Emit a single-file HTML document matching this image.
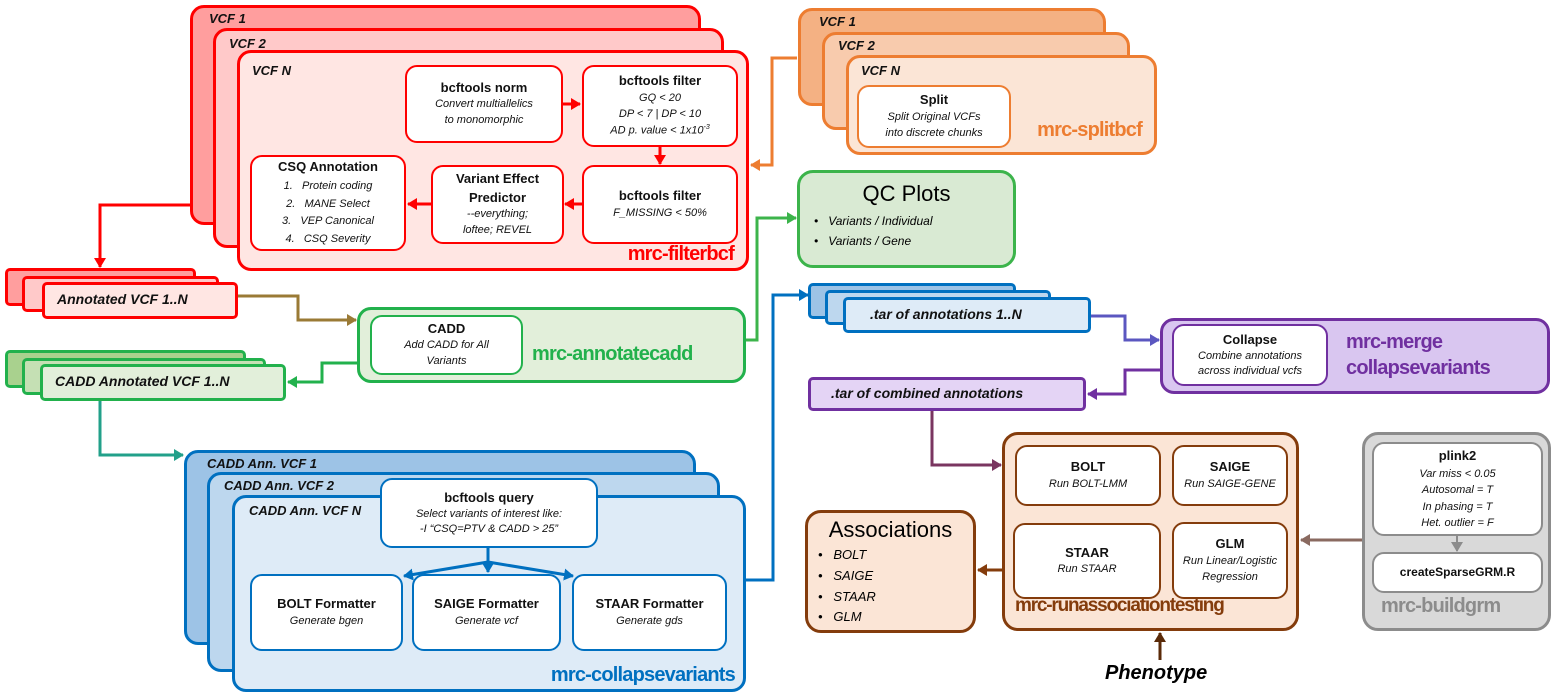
<!DOCTYPE html>
<html><head><meta charset="utf-8"><style>
body{margin:0;width:1557px;height:697px;background:#fff;position:relative;overflow:hidden;font-family:"Liberation Sans",sans-serif;}
.b{position:absolute;box-sizing:border-box;border-radius:14px;border:3px solid;}
.i{position:absolute;box-sizing:border-box;border-radius:12px;border:2px solid;background:#fff;text-align:center;font-size:11px;font-style:italic;color:#111;display:flex;flex-direction:column;justify-content:center;line-height:1.45;}
.i b{font-style:normal;font-size:13px;}
.t{position:absolute;font-weight:bold;font-style:italic;font-size:13px;color:#111;}
.lab{position:absolute;font-weight:bold;font-size:20px;letter-spacing:-0.8px;white-space:nowrap;}
.st{position:absolute;box-sizing:border-box;border-radius:5px;border:3px solid;font-weight:bold;font-style:italic;font-size:14px;color:#111;padding:6px 0 0 10px;}
svg{position:absolute;left:0;top:0;}
</style></head><body>
<!-- red -->
<div class="b" style="left:190px;top:5px;width:511px;height:220px;border-color:#f00;background:#ff9e9e"><span class="t" style="left:16px;top:3px">VCF 1</span></div>
<div class="b" style="left:213px;top:28px;width:511px;height:220px;border-color:#f00;background:#ffc9c9"><span class="t" style="left:13px;top:5px">VCF 2</span></div>
<div class="b" style="left:237px;top:50px;width:512px;height:221px;border-color:#f00;background:#ffe6e3"><span class="t" style="left:12px;top:10px">VCF N</span>
<span class="lab" style="right:12px;bottom:2px;color:#f00">mrc-filterbcf</span></div>
<div class="i" style="left:405px;top:65px;width:158px;height:78px;border-color:#f00"><b>bcftools norm</b><div>Convert multiallelics<br>to monomorphic</div></div>
<div class="i" style="left:582px;top:65px;width:156px;height:82px;border-color:#f00"><b>bcftools filter</b><div>GQ &lt; 20<br>DP &lt; 7 | DP &lt; 10<br>AD p. value &lt; 1x10<sup style="font-size:7px">-3</sup></div></div>
<div class="i" style="left:582px;top:165px;width:156px;height:79px;border-color:#f00"><b>bcftools filter</b><div>F_MISSING &lt; 50%</div></div>
<div class="i" style="left:431px;top:165px;width:133px;height:79px;border-color:#f00"><b>Variant Effect<br>Predictor</b><div>--everything;<br>loftee; REVEL</div></div>
<div class="i" style="left:250px;top:155px;width:156px;height:96px;border-color:#f00;line-height:1.6"><b>CSQ Annotation</b><div>1.&nbsp;&nbsp; Protein coding<br>2.&nbsp;&nbsp; MANE Select<br>3.&nbsp;&nbsp; VEP Canonical<br>4.&nbsp;&nbsp; CSQ Severity</div></div>
<!-- orange -->
<div class="b" style="left:798px;top:8px;width:308px;height:98px;border-color:#ed7d31;background:#f4b183"><span class="t" style="left:18px;top:3px">VCF 1</span></div>
<div class="b" style="left:822px;top:32px;width:308px;height:98px;border-color:#ed7d31;background:#f8cbad"><span class="t" style="left:13px;top:3px">VCF 2</span></div>
<div class="b" style="left:846px;top:55px;width:311px;height:100px;border-color:#ed7d31;background:#fbe5d6"><span class="t" style="left:12px;top:5px">VCF N</span>
<span class="lab" style="right:12px;bottom:10px;color:#ed7d31">mrc-splitbcf</span></div>
<div class="i" style="left:857px;top:85px;width:154px;height:63px;border-color:#ed7d31"><b>Split</b><div>Split Original VCFs<br>into discrete chunks</div></div>
<!-- QC -->
<div class="b" style="left:797px;top:170px;width:219px;height:98px;border-color:#3cb44b;background:#d9ead3;border-radius:16px">
<div style="text-align:center;font-size:22px;margin-top:8px">QC Plots</div>
<div style="font-size:12px;font-style:italic;margin:4px 0 0 14px;line-height:1.7">•&nbsp;&nbsp; Variants / Individual<br>•&nbsp;&nbsp; Variants / Gene</div></div>
<!-- annotated stack -->
<div class="st" style="left:5px;top:268px;width:191px;height:38px;border-color:#f00;background:#ff9e9e"></div>
<div class="st" style="left:22px;top:276px;width:197px;height:36px;border-color:#f00;background:#ffc9c9"></div>
<div class="st" style="left:42px;top:282px;width:196px;height:37px;border-color:#f00;background:#ffe6e3;padding-left:12px">Annotated VCF 1..N</div>
<!-- cadd -->
<div class="b" style="left:357px;top:307px;width:389px;height:76px;border-color:#22b14c;background:#e2efda"><span class="lab" style="left:172px;top:33px;color:#22b14c">mrc-annotatecadd</span></div>
<div class="i" style="left:370px;top:315px;width:153px;height:60px;border-color:#22b14c"><b>CADD</b><div>Add CADD for All<br>Variants</div></div>
<div class="st" style="left:5px;top:350px;width:241px;height:38px;border-color:#22b14c;background:#a9d18e"></div>
<div class="st" style="left:22px;top:358px;width:244px;height:37px;border-color:#22b14c;background:#c5e0b4"></div>
<div class="st" style="left:40px;top:364px;width:246px;height:37px;border-color:#22b14c;background:#e2efda;padding-left:12px">CADD Annotated VCF 1..N</div>
<!-- blue -->
<div class="b" style="left:184px;top:450px;width:512px;height:195px;border-color:#0070c0;background:#9dc3e6"><span class="t" style="left:20px;top:3px">CADD Ann. VCF 1</span></div>
<div class="b" style="left:207px;top:472px;width:513px;height:200px;border-color:#0070c0;background:#bdd7ee"><span class="t" style="left:14px;top:3px">CADD Ann. VCF 2</span></div>
<div class="b" style="left:232px;top:495px;width:514px;height:197px;border-color:#0070c0;background:#deebf7"><span class="t" style="left:14px;top:5px">CADD Ann. VCF N</span>
<span class="lab" style="right:8px;bottom:2px;color:#0070c0">mrc-collapsevariants</span></div>
<div class="i" style="left:380px;top:478px;width:218px;height:70px;border-color:#0070c0;line-height:1.35"><b>bcftools query</b><div>Select variants of interest like:<br>-I “CSQ=PTV &amp; CADD &gt; 25”</div></div>
<div class="i" style="left:250px;top:574px;width:153px;height:77px;border-color:#0070c0"><b>BOLT Formatter</b><div>Generate bgen</div></div>
<div class="i" style="left:412px;top:574px;width:149px;height:77px;border-color:#0070c0"><b>SAIGE Formatter</b><div>Generate vcf</div></div>
<div class="i" style="left:572px;top:574px;width:155px;height:77px;border-color:#0070c0"><b>STAAR Formatter</b><div>Generate gds</div></div>
<!-- tar -->
<div class="st" style="left:808px;top:283px;width:208px;height:36px;border-color:#0070c0;background:#9dc3e6"></div>
<div class="st" style="left:825px;top:290px;width:226px;height:35px;border-color:#0070c0;background:#bdd7ee"></div>
<div class="st" style="left:843px;top:297px;width:248px;height:36px;border-color:#0070c0;background:#deebf7;padding-left:24px">.tar of annotations 1..N</div>
<!-- merge -->
<div class="b" style="left:1160px;top:318px;width:390px;height:76px;border-color:#7030a0;background:#d9c6f0"><span class="lab" style="left:183px;top:8px;color:#7030a0;line-height:1.3">mrc-merge<br>collapsevariants</span></div>
<div class="i" style="left:1172px;top:324px;width:156px;height:62px;border-color:#7030a0;line-height:1.4"><b>Collapse</b><div>Combine annotations<br>across individual vcfs</div></div>
<div class="st" style="left:808px;top:377px;width:278px;height:34px;border-color:#7030a0;background:#e4d4f5;padding:5px 0 0 20px">.tar of combined annotations</div>
<!-- runassoc -->
<div class="b" style="left:1002px;top:432px;width:297px;height:199px;border-color:#843c0c;background:#fbe5d6;border-radius:16px"><span class="lab" style="left:10px;top:160px;color:#843c0c;font-size:19px;letter-spacing:-1.2px">mrc-runassociationtesting</span></div>
<div class="i" style="left:1015px;top:445px;width:146px;height:61px;border-color:#843c0c"><b>BOLT</b><div>Run BOLT-LMM</div></div>
<div class="i" style="left:1172px;top:445px;width:116px;height:61px;border-color:#843c0c"><b>SAIGE</b><div>Run SAIGE-GENE</div></div>
<div class="i" style="left:1013px;top:523px;width:148px;height:76px;border-color:#843c0c"><b>STAAR</b><div>Run STAAR</div></div>
<div class="i" style="left:1172px;top:522px;width:116px;height:77px;border-color:#843c0c"><b>GLM</b><div>Run Linear/Logistic<br>Regression</div></div>
<div class="b" style="left:805px;top:510px;width:171px;height:123px;border-color:#843c0c;background:#fbe5d6;border-radius:16px">
<div style="text-align:center;font-size:22px;margin-top:4px">Associations</div>
<div style="font-size:13px;font-style:italic;margin:2px 0 0 10px;line-height:1.6">•&nbsp;&nbsp; BOLT<br>•&nbsp;&nbsp; SAIGE<br>•&nbsp;&nbsp; STAAR<br>•&nbsp;&nbsp; GLM</div></div>
<div style="position:absolute;left:1105px;top:662px;font-size:20px;font-weight:bold;font-style:italic">Phenotype</div>
<!-- grm -->
<div class="b" style="left:1362px;top:432px;width:189px;height:199px;border-color:#8c8c8c;background:#d9d9d9;border-radius:16px"><span class="lab" style="left:16px;top:160px;color:#8c8c8c">mrc-buildgrm</span></div>
<div class="i" style="left:1372px;top:442px;width:171px;height:94px;border-color:#8c8c8c;line-height:1.5"><b>plink2</b><div>Var miss &lt; 0.05<br>Autosomal = T<br>In phasing = T<br>Het. outlier = F</div></div>
<div class="i" style="left:1372px;top:552px;width:171px;height:41px;border-color:#8c8c8c"><b style="font-size:12px">createSparseGRM.R</b></div>
<svg width="1557" height="697">
<defs>
<marker id="a" markerUnits="userSpaceOnUse" markerWidth="10" markerHeight="12" refX="9" refY="6" orient="auto"><path d="M0,0L10,6L0,12z" fill="context-stroke"/></marker>
</defs>
<g fill="none" stroke-width="3" marker-end="url(#a)">
<path d="M563,104H580" stroke="#f00"/>
<path d="M660,147V164" stroke="#f00"/>
<path d="M582,204H565" stroke="#f00"/>
<path d="M431,204H408" stroke="#f00"/>
<path d="M797,58H772V165H751" stroke="#ed7d31"/>
<path d="M190,205H100V267" stroke="#f00"/>
<path d="M238,296H298V320H356" stroke="#9a7a35"/>
<path d="M746,340H757V218H796" stroke="#3cb44b"/>
<path d="M357,363H322V382H288" stroke="#22b14c"/>
<path d="M100,401V455H183" stroke="#22a08a"/>
<path d="M488,548V572" stroke="#0070c0"/>
<path d="M488,562L404,576" stroke="#0070c0"/>
<path d="M488,562L573,576" stroke="#0070c0"/>
<path d="M746,580H773V295H808" stroke="#0070c0"/>
<path d="M1091,316H1125V340H1159" stroke="#5b57c0"/>
<path d="M1160,370H1125V394H1088" stroke="#7030a0"/>
<path d="M932,411V465H1001" stroke="#7a3560"/>
<path d="M1002,570H978" stroke="#843c0c"/>
<path d="M1160,660V633" stroke="#5a2a08"/>
<path d="M1362,540H1301" stroke="#8a6a60"/>
<path d="M1457,536V551" stroke="#8c8c8c" stroke-width="2"/>
</g>
</svg>
</body></html>
